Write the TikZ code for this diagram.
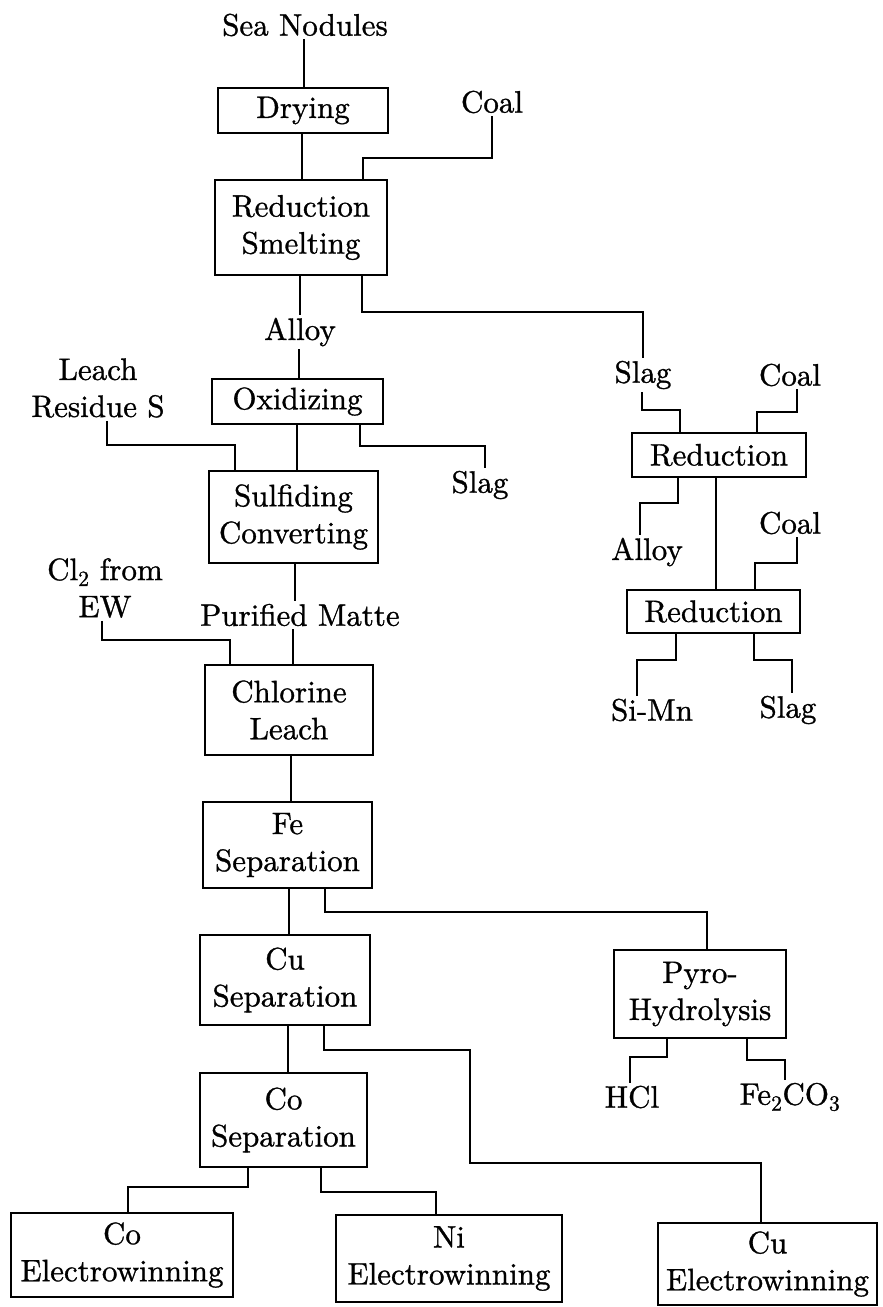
\documentclass[tikz,border=0pt]{standalone}
\usepackage{fontspec}
\setmainfont{lmroman10-regular.otf}[FakeBold=1]
\newcommand{\bodyfnt}{\fontsize{31}{37}\selectfont}
\tikzset{
  box/.style={draw, line width=1.5pt, align=center, inner sep=0pt, font=\bodyfnt},
  lbl/.style={align=center, inner sep=3pt, font=\bodyfnt},
  conn/.style={line width=1.6pt}
}
\begin{document}
\begin{tikzpicture}[x=1pt,y=-1pt]
\useasboundingbox (0,0) rectangle (883,1307);
% process boxes
\node[box, minimum width=170pt, minimum height=45pt] (dry) at (303,110.5) {Drying};
\node[box, minimum width=172pt, minimum height=95pt] (rs) at (301,227.5) {Reduction\\Smelting};
\node[box, minimum width=171pt, minimum height=45pt] (ox) at (297.5,401.5) {Oxidizing};
\node[box, minimum width=169pt, minimum height=92pt] (sc) at (293.5,517) {Sulfiding\\Converting};
\node[box, minimum width=168pt, minimum height=90pt] (cl) at (289,710) {Chlorine\\Leach};
\node[box, minimum width=169pt, minimum height=86pt] (fe) at (287.5,845) {Fe\\Separation};
\node[box, minimum width=170pt, minimum height=90pt] (cu) at (285,980) {Cu\\Separation};
\node[box, minimum width=167pt, minimum height=94pt] (co) at (283.5,1120) {Co\\Separation};
\node[box, minimum width=222pt, minimum height=84pt] (coew) at (122,1255) {Co\\Electrowinning};
\node[box, minimum width=226pt, minimum height=87pt] (niew) at (449,1258.5) {Ni\\Electrowinning};
\node[box, minimum width=219pt, minimum height=82pt] (cuew) at (767.5,1264) {Cu\\Electrowinning};
\node[box, minimum width=174pt, minimum height=44pt] (red1) at (719,455) {Reduction};
\node[box, minimum width=173pt, minimum height=43pt] (red2) at (713.5,611.5) {Reduction};
\node[box, minimum width=172pt, minimum height=88pt] (pyro) at (700,994) {Pyro-\\Hydrolysis};
% labels
\node[lbl] (sea) at (305,25) {Sea Nodules};
\node[lbl] (coal1) at (492,102) {Coal};
\node[lbl] (alloy1) at (300,332) {Alloy};
\node[lbl] (slag1) at (643,375) {Slag};
\node[lbl] (lrs) at (98,388) {Leach\\Residue S};
\node[lbl] (slag2) at (480,485) {Slag};
\node[lbl] (pm) at (300,615) {Purified Matte};
\node[lbl] (cl2) at (105,588) {Cl\textsubscript{2} from\\EW};
\node[lbl] (hcl) at (632,1097) {HCl};
\node[lbl] (fe2co3) at (790,1097) {Fe\textsubscript{2}CO\textsubscript{3}};
\node[lbl] (coal2) at (790,375) {Coal};
\node[lbl] (coal3) at (790,523) {Coal};
\node[lbl] (alloy2) at (647,552) {Alloy};
\node[lbl] (simn) at (652,710) {Si-Mn};
\node[lbl] (slag3) at (788,710) {Slag};
% connectors
\draw[conn] (sea.south -| 304,0) -- (dry.north -| 304,0);
\draw[conn] (dry.south -| 302,0) -- (rs.north -| 302,0);
\draw[conn] (coal1.south) -- (492,158) -| (rs.north -| 363,0);
\draw[conn] (rs.south -| 300,0) -- (alloy1.north -| 300,0);
\draw[conn] (rs.south -| 362,0) -- (362,312) -| (slag1.north);
\draw[conn] (alloy1.south -| 299,0) -- (ox.north -| 299,0);
\draw[conn] (lrs.south -| 107,0) -- (107,445) -| (sc.north -| 235,0);
\draw[conn] (ox.south -| 297,0) -- (sc.north -| 297,0);
\draw[conn] (ox.south -| 360,0) -- (360,446) -| (slag2.north -| 485,0);
\draw[conn] (sc.south -| 295,0) -- (pm.north -| 295,0);
\draw[conn] (pm.south -| 293,0) -- (cl.north -| 293,0);
\draw[conn] (cl2.south -| 102,0) -- (102,640) -| (cl.north -| 230,0);
\draw[conn] (cl.south -| 291,0) -- (fe.north -| 291,0);
\draw[conn] (fe.south -| 289,0) -- (cu.north -| 289,0);
\draw[conn] (fe.south -| 325,0) -- (325,912) -| (pyro.north -| 707,0);
\draw[conn] (pyro.south -| 667,0) -- (667,1057) -| (hcl.north -| 630,0);
\draw[conn] (pyro.south -| 747,0) -- (747,1060) -| (fe2co3.north -| 785,0);
\draw[conn] (cu.south -| 288,0) -- (co.north -| 288,0);
\draw[conn] (cu.south -| 324,0) -- (324,1050) -| (470,1163) -| (cuew.north -| 761,0);
\draw[conn] (co.south -| 248,0) -- (248,1187) -| (coew.north -| 128,0);
\draw[conn] (co.south -| 321,0) -- (321,1192) -| (niew.north -| 436,0);
\draw[conn] (slag1.south -| 642,0) -- (642,410) -| (red1.north -| 680,0);
\draw[conn] (coal2.south -| 797,0) -- (797,412) -| (red1.north -| 757,0);
\draw[conn] (red1.south -| 678,0) -- (678,503) -| (alloy2.north -| 640,0);
\draw[conn] (red1.south -| 716,0) -- (red2.north -| 716,0);
\draw[conn] (coal3.south -| 797,0) -- (797,563) -| (red2.north -| 755,0);
\draw[conn] (red2.south -| 676,0) -- (676,660) -| (simn.north -| 637,0);
\draw[conn] (red2.south -| 754,0) -- (754,660) -| (slag3.north -| 792,0);
\end{tikzpicture}
\end{document}
